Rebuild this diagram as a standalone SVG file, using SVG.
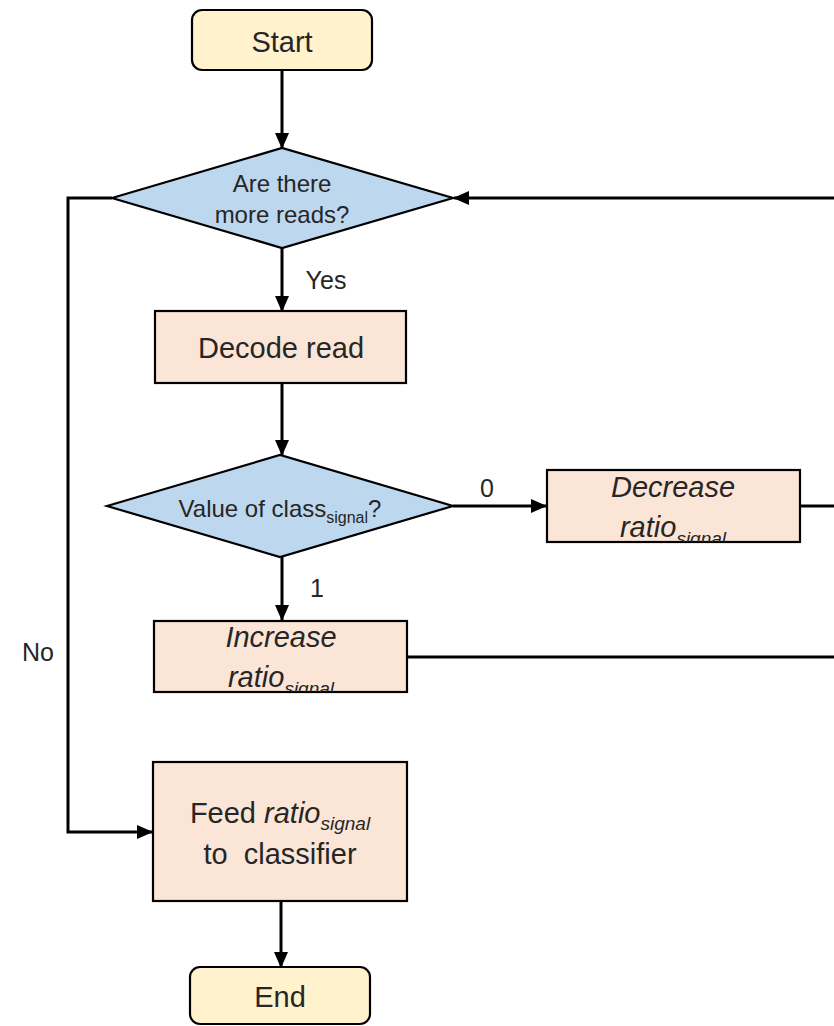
<svg xmlns="http://www.w3.org/2000/svg" width="834" height="1026" viewBox="0 0 834 1026">
<style>
text{font-family:"Liberation Sans",Arial,sans-serif;fill:#262626;text-anchor:middle}
.t{font-size:29px}
.d{font-size:24px}
.l{font-size:25px}
.i{font-style:italic}
.term{fill:#FFF2CC;stroke:#000;stroke-width:2.2}
.dia{fill:#BDD7EE;stroke:#000;stroke-width:2.2}
.box{fill:#FBE5D6;stroke:#000;stroke-width:2.2}
.c{fill:none;stroke:#000;stroke-width:3}
</style>
<defs>
<marker id="ah" markerUnits="userSpaceOnUse" markerWidth="16" markerHeight="14" refX="15" refY="7" orient="auto">
<path d="M0,0 L16,7 L0,14 Z" fill="#000"/>
</marker>
<clipPath id="clipDec"><rect x="547" y="470" width="253" height="72"/></clipPath>
<clipPath id="clipInc"><rect x="154" y="621" width="253" height="71"/></clipPath>
</defs>
<g id="connectors">
<line class="c" x1="282" y1="70" x2="282" y2="148" marker-end="url(#ah)"/>
<line class="c" x1="282" y1="248" x2="282" y2="311" marker-end="url(#ah)"/>
<line class="c" x1="282" y1="383" x2="282" y2="455" marker-end="url(#ah)"/>
<line class="c" x1="453" y1="506" x2="546" y2="506" marker-end="url(#ah)"/>
<line class="c" x1="282" y1="557" x2="282" y2="620" marker-end="url(#ah)"/>
<line class="c" x1="800" y1="506" x2="834" y2="506"/>
<line class="c" x1="407" y1="657" x2="834" y2="657"/>
<line class="c" x1="836" y1="198" x2="454" y2="198" marker-end="url(#ah)"/>
<polyline class="c" points="112,198 68,198 68,832 152,832" marker-end="url(#ah)"/>
<line class="c" x1="281" y1="901" x2="281" y2="967" marker-end="url(#ah)"/>
<text class="l" x="326" y="289">Yes</text>
<text class="l" x="487" y="497">0</text>
<text class="l" x="317" y="597">1</text>
<text class="l" x="38" y="661">No</text>
</g>
<g id="start">
<rect class="term" x="192" y="10" width="180" height="60" rx="10"/>
<text class="t" x="282" y="52">Start</text>
</g>
<g id="more-reads">
<polygon class="dia" points="112,198 282,148 453,198 282,248"/>
<text class="d" x="282" y="192">Are there</text>
<text class="d" x="282" y="223">more reads?</text>
</g>
<g id="decode">
<rect class="box" x="155" y="311" width="251" height="72"/>
<text class="t" x="281" y="358">Decode read</text>
</g>
<g id="value-class">
<polygon class="dia" points="107,506 280,455 453,506 280,557"/>
<text class="d" x="280" y="517">Value of class<tspan font-size="16" dy="6">signal</tspan><tspan dy="-6">?</tspan></text>
</g>
<g id="decrease">
<rect class="box" x="547" y="470" width="253" height="72"/>
<g clip-path="url(#clipDec)">
<text class="t i" x="673" y="497">Decrease</text>
<text class="t i" x="673" y="537">ratio<tspan font-size="19" dy="8">signal</tspan></text>
</g>
</g>
<g id="increase">
<rect class="box" x="154" y="621" width="253" height="71"/>
<g clip-path="url(#clipInc)">
<text class="t i" x="281" y="647">Increase</text>
<text class="t i" x="281" y="687">ratio<tspan font-size="19" dy="8">signal</tspan></text>
</g>
</g>
<g id="feed">
<rect class="box" x="153" y="762" width="254" height="139"/>
<text class="t" x="280" y="823">Feed <tspan class="i">ratio</tspan><tspan class="i" font-size="19" dy="7">signal</tspan></text>
<text class="t" x="280" y="864">to&#160; classifier</text>
</g>
<g id="end">
<rect class="term" x="190" y="967" width="180" height="57" rx="10"/>
<text class="t" x="280" y="1007">End</text>
</g>
</svg>
